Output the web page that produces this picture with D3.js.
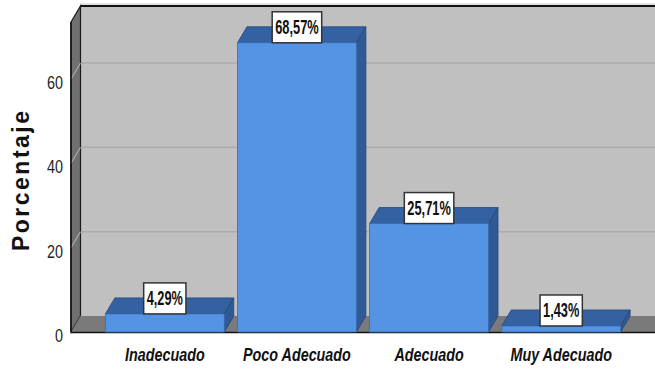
<!DOCTYPE html>
<html><head><meta charset="utf-8">
<script src="https://cdn.jsdelivr.net/npm/d3@7"></script>
<style>
html,body{margin:0;padding:0;background:#fff;}
svg{display:block;}
</style></head>
<body>
<script>
const categories = ["Inadecuado", "Poco Adecuado", "Adecuado", "Muy Adecuado"];
const values = [4.29, 68.57, 25.71, 1.43];
const valueLabels = ["4,29%", "68,57%", "25,71%", "1,43%"];
const yTicks = [0, 20, 40, 60];
const yTitle = "Porcentaje";

const W = 655, H = 369;
const depthX = 9.5, depthY = -16;
const sans = "'Liberation Sans',Arial,sans-serif";
const narrowScale = 0.82;

const svg = d3.select("body").append("svg").attr("width", W).attr("height", H);

const x = d3.scaleBand().domain(categories).range([71, 655]).paddingInner(0.1).paddingOuter(0.26);
const y = d3.scaleLinear().domain([0, 73.5]).range([332, 22]);

const x0 = 71, x1 = 655;
const yTop = y.domain()[1];

// back wall
svg.append("rect")
  .attr("x", x0 + depthX).attr("y", y(yTop) + depthY)
  .attr("width", x1 - x0).attr("height", y(0) - y(yTop))
  .attr("fill", "#c0c0c0");

// back wall gridlines
svg.selectAll(".grid").data(yTicks.filter(d => d > 0)).join("line")
  .attr("x1", x0 + depthX).attr("x2", x1)
  .attr("y1", d => y(d) + depthY).attr("y2", d => y(d) + depthY)
  .attr("stroke", "#acacac").attr("stroke-width", 1.5);

// top edge of wall
svg.append("line").attr("x1", x0 + depthX).attr("x2", x1)
  .attr("y1", y(yTop) + depthY - 2).attr("y2", y(yTop) + depthY - 2)
  .attr("stroke", "#d8d8d8").attr("stroke-width", 1.5);
svg.append("line").attr("x1", x0 + depthX).attr("x2", x1)
  .attr("y1", y(yTop) + depthY).attr("y2", y(yTop) + depthY)
  .attr("stroke", "#111").attr("stroke-width", 2);

// left wall
svg.append("polygon")
  .attr("points", [[x0, y(yTop)], [x0 + depthX, y(yTop) + depthY], [x0 + depthX, y(0) + depthY], [x0, y(0)]].map(p => p.join(",")).join(" "))
  .attr("fill", "#707070").attr("stroke", "#1a1a1a").attr("stroke-width", 1.2);

// left wall grid diagonals
svg.selectAll(".gridL").data(yTicks.filter(d => d > 0)).join("line")
  .attr("x1", x0).attr("x2", x0 + depthX)
  .attr("y1", d => y(d)).attr("y2", d => y(d) + depthY)
  .attr("stroke", "#a8a8a8").attr("stroke-width", 1.2);

// floor
svg.append("polygon")
  .attr("points", [[x0, y(0)], [x0 + depthX, y(0) + depthY], [x1, y(0) + depthY], [x1, y(0)]].map(p => p.join(",")).join(" "))
  .attr("fill", "#7a7a7a");
svg.append("line").attr("x1", x0).attr("x2", x1).attr("y1", y(0) + 0.5).attr("y2", y(0) + 0.5)
  .attr("stroke", "#111").attr("stroke-width", 1.5);
svg.append("line").attr("x1", x0).attr("x2", x0).attr("y1", y(yTop)).attr("y2", y(0))
  .attr("stroke", "#111").attr("stroke-width", 1.5);

// y tick labels
svg.selectAll(".ytick").data(yTicks).join("text")
  .attr("transform", d => `translate(63,${y(d) + 4}) scale(${narrowScale},1)`)
  .attr("dy", "0.35em")
  .attr("text-anchor", "end")
  .attr("font-family", sans).attr("font-size", 17.5).attr("fill", "#222")
  .text(d => d);

// y title
svg.append("text")
  .attr("transform", "translate(29,181) rotate(-90)")
  .attr("text-anchor", "middle")
  .attr("font-family", sans).attr("font-weight", "bold")
  .attr("font-size", 23).attr("fill", "#111")
  .attr("textLength", 140).attr("lengthAdjust", "spacing")
  .text(yTitle);

// bars
const bars = svg.selectAll(".bar").data(categories.map((c, i) => ({c, v: values[i], lab: valueLabels[i]}))).join("g");
const bw = x.bandwidth();
bars.append("polygon") // top
  .attr("points", d => {
    const xl = x(d.c), yt = y(d.v);
    return [[xl, yt], [xl + depthX, yt + depthY], [xl + bw + depthX, yt + depthY], [xl + bw, yt]].map(p => p.join(",")).join(" ");
  })
  .attr("fill", "#3461a2").attr("stroke", "#24467a").attr("stroke-width", 0.8);
bars.append("polygon") // side
  .attr("points", d => {
    const xr = x(d.c) + bw, yt = y(d.v), yb = y(0);
    return [[xr, yt], [xr + depthX, yt + depthY], [xr + depthX, yb + depthY], [xr, yb]].map(p => p.join(",")).join(" ");
  })
  .attr("fill", "#2f5a95").attr("stroke", "#24467a").attr("stroke-width", 0.8);
bars.append("rect") // front
  .attr("x", d => x(d.c)).attr("y", d => y(d.v))
  .attr("width", bw).attr("height", d => y(0) - y(d.v))
  .attr("fill", "#5594e4").attr("stroke", "#3a6db0").attr("stroke-width", 0.8);

// value label boxes
const labW = d => 7.25 * d.lab.length;
bars.append("rect")
  .attr("x", d => x(d.c) + bw / 2 - (labW(d) + 6) / 2)
  .attr("y", d => y(d.v) - 31)
  .attr("width", d => labW(d) + 6).attr("height", 31)
  .attr("fill", "#fff").attr("stroke", "#333").attr("stroke-width", 1.5);
bars.append("text")
  .attr("x", d => x(d.c) + bw / 2).attr("y", d => y(d.v) - 8.5)
  .attr("text-anchor", "middle")
  .attr("font-family", sans).attr("font-weight", "bold")
  .attr("font-size", 20).attr("fill", "#111")
  .attr("textLength", d => labW(d)).attr("lengthAdjust", "spacingAndGlyphs")
  .text(d => d.lab);

// x labels
svg.selectAll(".xlab").data(categories).join("text")
  .attr("transform", d => `translate(${x(d) + bw / 2},361) scale(${narrowScale},1)`)
  .attr("text-anchor", "middle")
  .attr("font-family", sans).attr("font-weight", "bold").attr("font-style", "italic")
  .attr("font-size", 17.5).attr("fill", "#111")
  .text(d => d);
</script>
</body></html>
